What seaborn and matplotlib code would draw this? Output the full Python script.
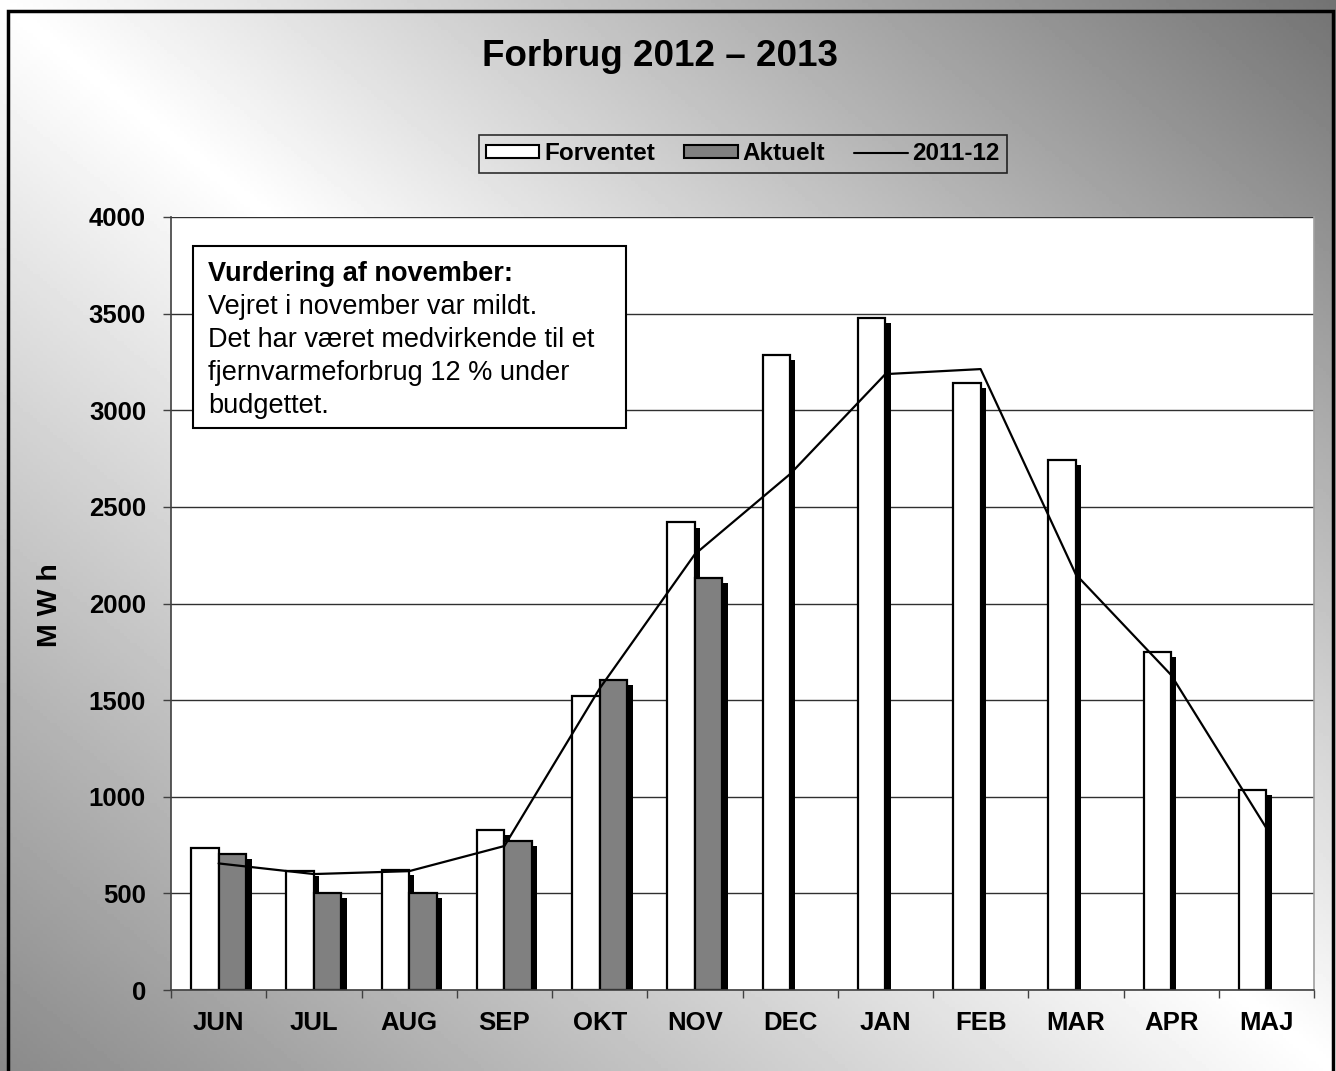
import numpy as np
import pandas as pd
import matplotlib
matplotlib.use("Agg")
import matplotlib.pyplot as plt
import matplotlib.patheffects as pe
from matplotlib.patches import Rectangle, Patch
from matplotlib.lines import Line2D
import seaborn as sns

months = ["JUN", "JUL", "AUG", "SEP", "OKT", "NOV", "DEC", "JAN", "FEB", "MAR", "APR", "MAJ"]
forventet = [735, 615, 620, 828, 1520, 2420, 3285, 3478, 3142, 2742, 1749, 1035]
aktuelt = [703, 502, 502, 770, 1604, 2131, np.nan, np.nan, np.nan, np.nan, np.nan, np.nan]
ref_2011_12 = [655, 600, 615, 745, 1560, 2255, 2670, 3187, 3213, 2150, 1630, 838]
yticks = [0, 500, 1000, 1500, 2000, 2500, 3000, 3500, 4000]

title = "Forbrug 2012 – 2013"
ylabel = "M W h"
note_head = "Vurdering af november:"
note_lines = ["Vejret i november var mildt.",
              "Det har været medvirkende til et",
              "fjernvarmeforbrug 12 % under",
              "budgettet."]

sns.set_theme(style="white")
plt.rcParams['font.family'] = ['Liberation Sans', 'DejaVu Sans']
plt.rcParams['text.color'] = 'black'
plt.rcParams['axes.labelcolor'] = 'black'
plt.rcParams['xtick.color'] = 'black'
plt.rcParams['ytick.color'] = 'black'

W, H = 1336, 1071
fig = plt.figure(figsize=(W / 100, H / 100), dpi=100)

# gradient background
bg = fig.add_axes([0, 0, 1, 1], zorder=-10)
xx, yy = np.meshgrid(np.linspace(0, 1, 400), np.linspace(0, 1, 320))
d = xx - yy
val = np.where(d > 0, 1 - 0.55 * d, 1 + 0.46 * d)
bg.imshow(val, cmap="gray", vmin=0, vmax=1, aspect="auto", extent=[0, 1, 0, 1], origin="upper")
bg.set_axis_off()

# figure border
fig.patches.append(Rectangle((7.5 / W, -0.02), (1333 - 7.5) / W, 1.02 - 10.5 / H,
                             transform=fig.transFigure, fill=False, edgecolor="black",
                             linewidth=2.5, zorder=5))

ax = fig.add_axes([171 / W, 1 - 990 / H, (1314 - 171) / W, (990 - 217) / H])
ax.set_facecolor("white")

df = pd.DataFrame({
    "month": months * 2,
    "value": forventet + aktuelt,
    "series": ["Forventet"] * 12 + ["Aktuelt"] * 12,
})
sns.barplot(data=df, x="month", y="value", hue="series", order=months,
            hue_order=["Forventet", "Aktuelt"],
            palette={"Forventet": "white", "Aktuelt": "#808080"},
            width=0.58, edgecolor="black", linewidth=1.6, saturation=1,
            legend=False, ax=ax, zorder=2)
for p in ax.patches:
    p.set_path_effects([pe.SimplePatchShadow(offset=(3.8, -3.8), shadow_rgbFace="black", alpha=1.0),
                        pe.Normal()])

sns.lineplot(x=np.arange(len(months)), y=ref_2011_12, color="black", linewidth=1.6,
             ax=ax, legend=False, zorder=4)

ax.set_xlim(-0.5, len(months) - 0.5)
ax.set_ylim(0, 4000)
ax.set_yticks(yticks)
ax.set_yticklabels([str(t) for t in yticks], fontsize=18.5, fontweight="bold")
ax.set_xticks(np.arange(len(months)))
ax.set_xticklabels(months, fontsize=18.5, fontweight="bold")
ax.set_xticks(np.arange(len(months) + 1) - 0.5, minor=True)
ax.tick_params(axis="x", which="major", length=0, pad=15)
ax.tick_params(axis="x", which="minor", length=6, width=1, color="#404040", direction="out", bottom=True)
ax.tick_params(axis="y", which="major", length=6, width=1, color="#404040", direction="out",
               pad=12, left=True)
ax.set_xlabel("")
ax.set_ylabel("")
ax.yaxis.grid(True, color="#303030", linewidth=1)
ax.set_axisbelow(True)
for s in ["left", "bottom"]:
    ax.spines[s].set_visible(True)
    ax.spines[s].set_color("#404040")
    ax.spines[s].set_linewidth(1.2)
ax.spines["top"].set_visible(False)
ax.spines["right"].set_visible(True)
ax.spines["right"].set_color("#a0a0a0")
ax.spines["right"].set_linewidth(1.2)

# titles
fig.text(660 / W, 1 - 57 / H, title, ha="center", va="center", fontsize=26.5, fontweight="bold")
fig.text(50 / W, 1 - 605 / H, ylabel, ha="center", va="center", rotation=90,
         fontsize=20.5, fontweight="bold")

# legend
handles = [Patch(facecolor="white", edgecolor="black", linewidth=1.5),
           Patch(facecolor="#808080", edgecolor="black", linewidth=1.5),
           Line2D([0], [0], color="black", linewidth=1.5)]
leg = fig.legend(handles, ["Forventet", "Aktuelt", "2011-12"], loc="center",
                 bbox_to_anchor=(743 / W, 1 - 154 / H), ncol=3, frameon=True,
                 fancybox=False, shadow=False, handlelength=2.2, handleheight=0.45,
                 handletextpad=0.2, columnspacing=1.2, borderpad=0.3, borderaxespad=0,
                 prop={"weight": "bold", "size": 17.5})
leg.get_frame().set_facecolor("none")
leg.get_frame().set_edgecolor("black")
leg.get_frame().set_linewidth(1.2)
leg._legend_box.sep = 10

# annotation box
fig.patches.append(Rectangle((193 / W, 1 - 428 / H), (626 - 193) / W, (428 - 246) / H,
                             transform=fig.transFigure, facecolor="white", edgecolor="black",
                             linewidth=1.5, zorder=6))
fig.text(208 / W, 1 - 281 / H, note_head, ha="left", va="baseline", fontsize=19.5,
         fontweight="bold", zorder=7)
for i, line in enumerate(note_lines):
    fig.text(208 / W, 1 - (314 + 33 * i) / H, line, ha="left", va="baseline",
             fontsize=19.5, zorder=7)

fig.savefig("out.png", dpi=100)
